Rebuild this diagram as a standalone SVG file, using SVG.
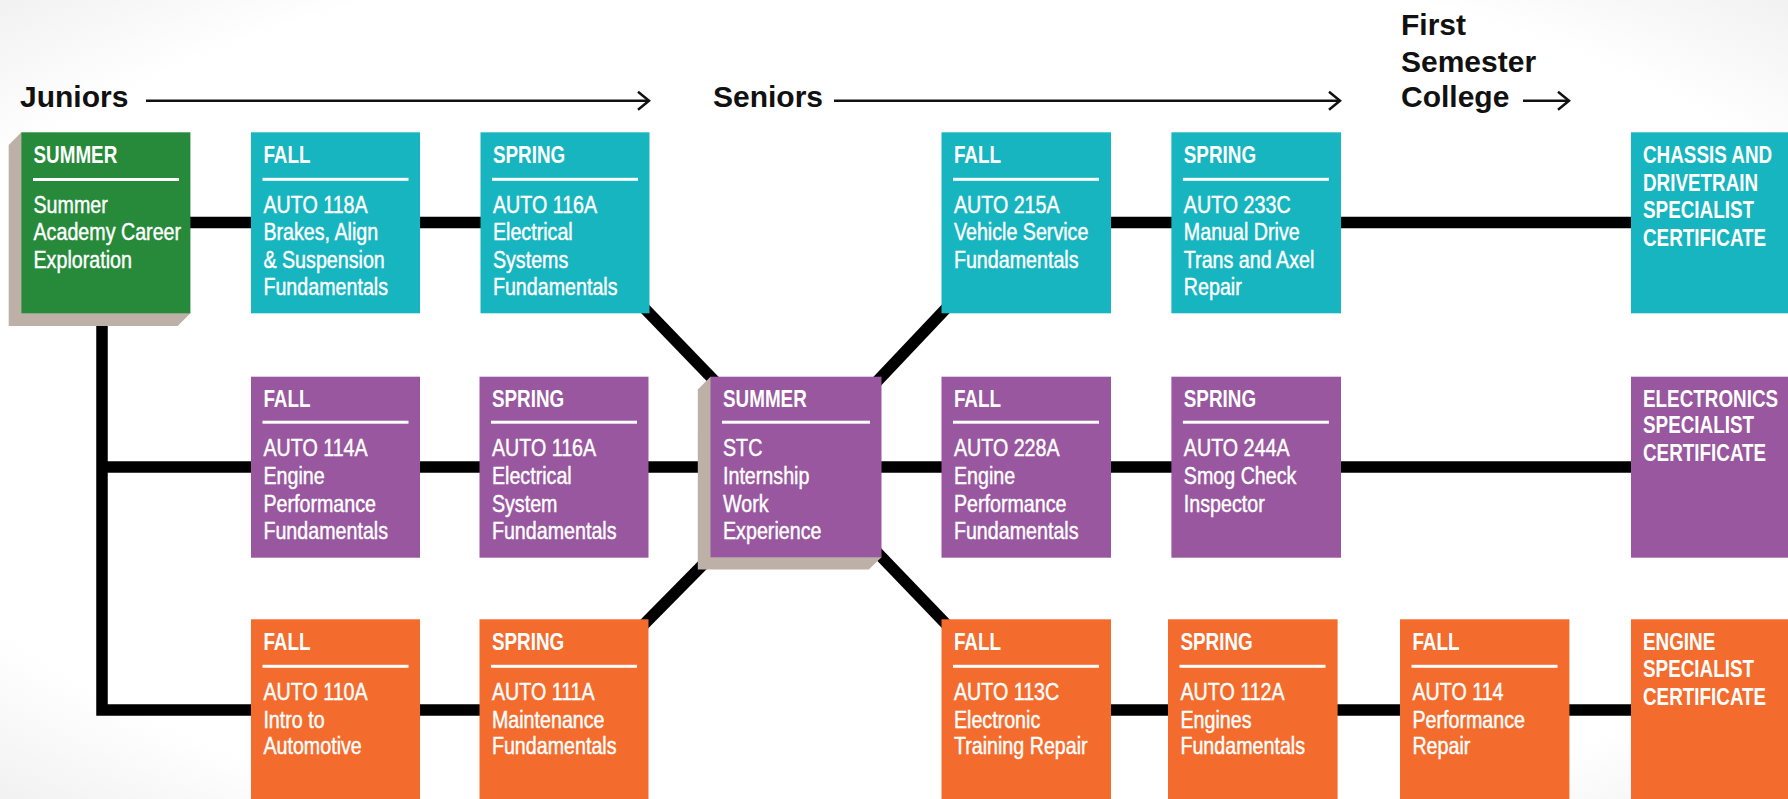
<svg xmlns="http://www.w3.org/2000/svg" width="1788" height="799" viewBox="0 0 1788 799">
  <defs>
    <radialGradient id="bg" cx="50%" cy="50%" r="72%">
      <stop offset="0.8" stop-color="#ffffff"/>
      <stop offset="1" stop-color="#f0f0f0"/>
    </radialGradient>
    <marker id="chev" markerUnits="userSpaceOnUse" markerWidth="16" markerHeight="24" viewBox="-14 -12 16 24" refX="0" refY="0" orient="auto">
      <path d="M-11,-9 L0,0 L-11,9" fill="none" stroke="#111" stroke-width="2.5" stroke-linejoin="miter"/>
    </marker>
  </defs>
  <style>
    .hdr { font-family: "Liberation Sans", Arial, sans-serif; font-weight: bold; font-size: 30px; fill: #111; }
    .arrow { fill: none; stroke: #111; stroke-width: 2.5; marker-end: url(#chev); }
    .conn { fill: none; stroke: #000; stroke-width: 11.5; stroke-linejoin: miter; }
    .shadow { fill: #bdb0a6; }
    .teal { fill: #17b5bf; }
    .purple { fill: #98579e; }
    .orange { fill: #f36c2d; }
    .green { fill: #268a3a; }
    .sem { font-family: "Liberation Sans", Arial, sans-serif; font-weight: bold; font-size: 23px; fill: #fff; }
    .body { font-family: "Liberation Sans", Arial, sans-serif; font-weight: normal; font-size: 24px; fill: #fff; stroke: #fff; stroke-width: 0.45; }
    .rule { fill: #fff; }
  </style>

  <rect x="0" y="0" width="1788" height="799" fill="url(#bg)"/>

  <g id="headers">
    <text class="hdr" x="20" y="107">Juniors</text>
    <path class="arrow" d="M146,100.7 H649"/>
    <text class="hdr" x="713" y="107">Seniors</text>
    <path class="arrow" d="M834,100.7 H1340"/>
    <text class="hdr" x="1401" y="35">First</text>
    <text class="hdr" x="1401" y="72">Semester</text>
    <text class="hdr" x="1401" y="107">College</text>
    <path class="arrow" d="M1523,100.7 H1569"/>
  </g>

  <g id="connectors">
    <path class="conn" d="M185,222.5 H260"/>
    <path class="conn" d="M410,222.5 H490"/>
    <path class="conn" d="M1100,222.5 H1180"/>
    <path class="conn" d="M1330,222.5 H1640"/>
    <path class="conn" d="M102,300 V710 H260"/>
    <path class="conn" d="M102,467 H260"/>
    <path class="conn" d="M410,467 H720"/>
    <path class="conn" d="M870,467 H950"/>
    <path class="conn" d="M1100,467 H1180"/>
    <path class="conn" d="M1330,467 H1640"/>
    <path class="conn" d="M410,710 H490"/>
    <path class="conn" d="M1100,710 H1178"/>
    <path class="conn" d="M1327,710 H1410"/>
    <path class="conn" d="M1560,710 H1640"/>
    <path class="conn" d="M642,305.8 L717.5,384"/>
    <path class="conn" d="M874.6,384 L948.4,306"/>
    <path class="conn" d="M717.5,549.9 L642,626.4"/>
    <path class="conn" d="M874.6,549.8 L948.4,626.5"/>
  </g>

  <g id="n-summer-academy">
    <path class="shadow" d="M21.4,132.3 L8.7,145 V326 H177.7 L190.4,313.3 Z"/>
    <rect class="green" x="21.4" y="132.3" width="169" height="181"/>
    <rect class="rule" x="33" y="178" width="146" height="3"/>
    <g transform="translate(33.5,0) scale(0.82,1)">
      <text class="sem" x="0" y="163">SUMMER</text>
      <text class="body" x="0" y="212.8">Summer</text>
      <text class="body" x="0" y="240.3">Academy Career</text>
      <text class="body" x="0" y="267.8">Exploration</text>
    </g>
  </g>

  <g id="n-auto118a" transform="translate(251,132.3)">
    <rect class="teal" width="169" height="181"/>
    <rect class="rule" x="11.5" y="45.5" width="146" height="3"/>
    <g transform="translate(12.4,0) scale(0.82,1)">
      <text class="sem" x="0" y="30.7">FALL</text>
      <text class="body" x="0" y="80.5">AUTO 118A</text>
      <text class="body" x="0" y="108">Brakes, Align</text>
      <text class="body" x="0" y="135.5">&amp; Suspension</text>
      <text class="body" x="0" y="163">Fundamentals</text>
    </g>
  </g>

  <g id="n-auto116a-1" transform="translate(480.5,132.3)">
    <rect class="teal" width="169" height="181"/>
    <rect class="rule" x="11.5" y="45.5" width="146" height="3"/>
    <g transform="translate(12.4,0) scale(0.82,1)">
      <text class="sem" x="0" y="30.7">SPRING</text>
      <text class="body" x="0" y="80.5">AUTO 116A</text>
      <text class="body" x="0" y="108">Electrical</text>
      <text class="body" x="0" y="135.5">Systems</text>
      <text class="body" x="0" y="163">Fundamentals</text>
    </g>
  </g>

  <g id="n-auto215a" transform="translate(941.5,132.3)">
    <rect class="teal" width="169.5" height="181"/>
    <rect class="rule" x="11.5" y="45.5" width="146" height="3"/>
    <g transform="translate(12.4,0) scale(0.82,1)">
      <text class="sem" x="0" y="30.7">FALL</text>
      <text class="body" x="0" y="80.5">AUTO 215A</text>
      <text class="body" x="0" y="108">Vehicle Service</text>
      <text class="body" x="0" y="135.5">Fundamentals</text>
    </g>
  </g>

  <g id="n-auto233c" transform="translate(1171.4,132.3)">
    <rect class="teal" width="169.6" height="181"/>
    <rect class="rule" x="11.5" y="45.5" width="146" height="3"/>
    <g transform="translate(12.4,0) scale(0.82,1)">
      <text class="sem" x="0" y="30.7">SPRING</text>
      <text class="body" x="0" y="80.5">AUTO 233C</text>
      <text class="body" x="0" y="108">Manual Drive</text>
      <text class="body" x="0" y="135.5">Trans and Axel</text>
      <text class="body" x="0" y="163">Repair</text>
    </g>
  </g>

  <g id="n-chassis-cert" transform="translate(1631,132.3)">
    <rect class="teal" width="170" height="181"/>
    <g transform="translate(12,0) scale(0.82,1)">
      <text class="sem" x="0" y="31">CHASSIS AND</text>
      <text class="sem" x="0" y="58.5">DRIVETRAIN</text>
      <text class="sem" x="0" y="86">SPECIALIST</text>
      <text class="sem" x="0" y="113.5">CERTIFICATE</text>
    </g>
  </g>

  <g id="n-auto114a" transform="translate(251,376.7)">
    <rect class="purple" width="169" height="181"/>
    <rect class="rule" x="11.5" y="44" width="146" height="3"/>
    <g transform="translate(12.4,0) scale(0.82,1)">
      <text class="sem" x="0" y="30.5">FALL</text>
      <text class="body" x="0" y="79.5">AUTO 114A</text>
      <text class="body" x="0" y="107">Engine</text>
      <text class="body" x="0" y="135">Performance</text>
      <text class="body" x="0" y="162.5">Fundamentals</text>
    </g>
  </g>

  <g id="n-auto116a-2" transform="translate(479.5,376.7)">
    <rect class="purple" width="169" height="181"/>
    <rect class="rule" x="11.5" y="44" width="146" height="3"/>
    <g transform="translate(12.4,0) scale(0.82,1)">
      <text class="sem" x="0" y="30.5">SPRING</text>
      <text class="body" x="0" y="79.5">AUTO 116A</text>
      <text class="body" x="0" y="107">Electrical</text>
      <text class="body" x="0" y="135">System</text>
      <text class="body" x="0" y="162.5">Fundamentals</text>
    </g>
  </g>

  <g id="n-stc-summer">
    <path class="shadow" d="M710.5,376.7 L697.8,389.4 V569.6 H868.8 L881.5,557.3 Z"/>
    <rect class="purple" x="710.5" y="376.7" width="171" height="180.6"/>
    <rect class="rule" x="722" y="420.7" width="148" height="3"/>
    <g transform="translate(723,0) scale(0.82,1)">
      <text class="sem" x="0" y="407.2">SUMMER</text>
      <text class="body" x="0" y="456.2">STC</text>
      <text class="body" x="0" y="483.7">Internship</text>
      <text class="body" x="0" y="511.7">Work</text>
      <text class="body" x="0" y="539.2">Experience</text>
    </g>
  </g>

  <g id="n-auto228a" transform="translate(941.5,376.7)">
    <rect class="purple" width="169.5" height="181"/>
    <rect class="rule" x="11.5" y="44" width="146" height="3"/>
    <g transform="translate(12.4,0) scale(0.82,1)">
      <text class="sem" x="0" y="30.5">FALL</text>
      <text class="body" x="0" y="79.5">AUTO 228A</text>
      <text class="body" x="0" y="107">Engine</text>
      <text class="body" x="0" y="135">Performance</text>
      <text class="body" x="0" y="162.5">Fundamentals</text>
    </g>
  </g>

  <g id="n-auto244a" transform="translate(1171.4,376.7)">
    <rect class="purple" width="169.6" height="181"/>
    <rect class="rule" x="11.5" y="44" width="146" height="3"/>
    <g transform="translate(12.4,0) scale(0.82,1)">
      <text class="sem" x="0" y="30.5">SPRING</text>
      <text class="body" x="0" y="79.5">AUTO 244A</text>
      <text class="body" x="0" y="107">Smog Check</text>
      <text class="body" x="0" y="135">Inspector</text>
    </g>
  </g>

  <g id="n-electronics-cert" transform="translate(1631,376.7)">
    <rect class="purple" width="170" height="181"/>
    <g transform="translate(12,0) scale(0.82,1)">
      <text class="sem" x="0" y="30">ELECTRONICS</text>
      <text class="sem" x="0" y="56.8">SPECIALIST</text>
      <text class="sem" x="0" y="84">CERTIFICATE</text>
    </g>
  </g>

  <g id="n-auto110a" transform="translate(251,619.3)">
    <rect class="orange" width="169" height="190"/>
    <rect class="rule" x="11.5" y="45.5" width="146" height="3"/>
    <g transform="translate(12.4,0) scale(0.82,1)">
      <text class="sem" x="0" y="30.7">FALL</text>
      <text class="body" x="0" y="80.7">AUTO 110A</text>
      <text class="body" x="0" y="108.5">Intro to</text>
      <text class="body" x="0" y="135">Automotive</text>
    </g>
  </g>

  <g id="n-auto111a" transform="translate(479.5,619.3)">
    <rect class="orange" width="169" height="190"/>
    <rect class="rule" x="11.5" y="45.5" width="146" height="3"/>
    <g transform="translate(12.4,0) scale(0.82,1)">
      <text class="sem" x="0" y="30.7">SPRING</text>
      <text class="body" x="0" y="80.7">AUTO 111A</text>
      <text class="body" x="0" y="108.5">Maintenance</text>
      <text class="body" x="0" y="135">Fundamentals</text>
    </g>
  </g>

  <g id="n-auto113c" transform="translate(941.5,619.3)">
    <rect class="orange" width="169.5" height="190"/>
    <rect class="rule" x="11.5" y="45.5" width="146" height="3"/>
    <g transform="translate(12.4,0) scale(0.82,1)">
      <text class="sem" x="0" y="30.7">FALL</text>
      <text class="body" x="0" y="80.7">AUTO 113C</text>
      <text class="body" x="0" y="108.5">Electronic</text>
      <text class="body" x="0" y="135">Training Repair</text>
    </g>
  </g>

  <g id="n-auto112a" transform="translate(1168,619.3)">
    <rect class="orange" width="169.6" height="190"/>
    <rect class="rule" x="11.5" y="45.5" width="146" height="3"/>
    <g transform="translate(12.4,0) scale(0.82,1)">
      <text class="sem" x="0" y="30.7">SPRING</text>
      <text class="body" x="0" y="80.7">AUTO 112A</text>
      <text class="body" x="0" y="108.5">Engines</text>
      <text class="body" x="0" y="135">Fundamentals</text>
    </g>
  </g>

  <g id="n-auto114" transform="translate(1400,619.3)">
    <rect class="orange" width="169.4" height="190"/>
    <rect class="rule" x="11.5" y="45.5" width="146" height="3"/>
    <g transform="translate(12.4,0) scale(0.82,1)">
      <text class="sem" x="0" y="30.7">FALL</text>
      <text class="body" x="0" y="80.7">AUTO 114</text>
      <text class="body" x="0" y="108.5">Performance</text>
      <text class="body" x="0" y="135">Repair</text>
    </g>
  </g>

  <g id="n-engine-cert" transform="translate(1631,619.3)">
    <rect class="orange" width="170" height="190"/>
    <g transform="translate(12,0) scale(0.82,1)">
      <text class="sem" x="0" y="30.7">ENGINE</text>
      <text class="sem" x="0" y="58">SPECIALIST</text>
      <text class="sem" x="0" y="85.5">CERTIFICATE</text>
    </g>
  </g>
</svg>
